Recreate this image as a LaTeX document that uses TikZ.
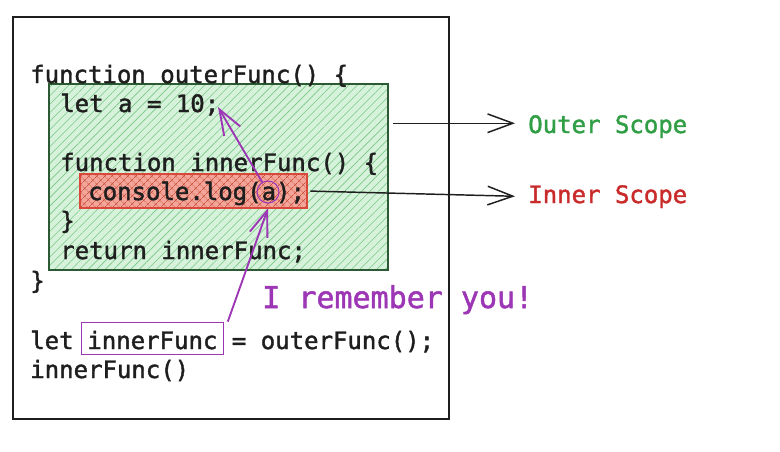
\documentclass[tikz,border=0pt]{standalone}
\usepackage{fontspec}
\newfontfamily\codefont[FakeBold=1.6]{DejaVu Sans Mono}
\usepackage{xcolor}
\usetikzlibrary{arrows.meta,patterns.meta,positioning}
\definecolor{ink}{HTML}{1E1E1E}
\definecolor{outerline}{HTML}{2B5A34}
\definecolor{outerfill}{HTML}{D6F2DA}
\definecolor{outerhatch}{HTML}{79C788}
\definecolor{innerline}{HTML}{D9483B}
\definecolor{innerfill}{HTML}{F2A598}
\definecolor{innerhatch}{HTML}{C9503F}
\definecolor{scopegreen}{HTML}{2F9E44}
\definecolor{scopered}{HTML}{C92A2A}
\definecolor{recall}{HTML}{9C36B5}
\tikzstyle{code} = [font=\codefont\fontsize{18}{22}\selectfont, text=ink, anchor=base west, inner sep=0pt]
\tikzstyle{outerbox} = [rectangle, draw=outerline, line width=0.8pt, preaction={fill=outerfill}, pattern={Lines[angle=45,distance=4.5pt,line width=0.45pt]}, pattern color=outerhatch]
\tikzstyle{innerbox} = [rectangle, draw=innerline, line width=0.8pt, preaction={fill=innerfill}, pattern={Hatch[angle=45,distance=4pt,line width=0.45pt]}, pattern color=innerhatch]
\tikzstyle{namebox} = [code, anchor=base, draw=recall, line width=0.6pt, text height=16.5pt, text depth=0pt, inner xsep=4.5pt, inner ysep=3.75pt]
\tikzstyle{scopearrow} = [draw=ink, line width=1.1pt, -{Straight Barb[length=19pt,width=14pt,line width=1.1pt]}]
\tikzstyle{recallarrow} = [draw=recall, line width=1.4pt, -{Straight Barb[length=19pt,width=14pt,line width=1.4pt]}]
\tikzstyle{frame} = [draw=ink, line width=0.9pt]

\begin{document}
\begin{tikzpicture}[x=0.75pt, y=-0.75pt]
    \useasboundingbox (0,0) rectangle (780,451);
    \draw [frame] (13,17) rectangle (449,419);
    % scope boxes
    \node (outer) [outerbox, minimum width=254.25pt, minimum height=139.5pt] at (218.5,177) {};
    \node (inner) [innerbox, minimum width=170.25pt, minimum height=25.5pt] at (193.5,191) {};
    % code lines
    \node (l1) [code] at (30,83) {function outerFunc() \{};
    \node (l2) [code] at (60,112) {let a = 10;};
    \node (l3) [code] at (60,171) {function innerFunc() \{};
    \node (l4) [code] at (88,200) {console.log(a);};
    \node (l5) [code] at (60,229) {\}};
    \node (l6) [code] at (60,259) {return innerFunc;};
    \node (l7) [code] at (30,289) {\}};
    \node (l8a) [code] at (30,349) {let};
    \node (ifname) [namebox] at (152.4,349) {innerFunc};
    \node (l8b) [code] at (231.6,349) {= outerFunc();};
    \node (l9) [code] at (30,378) {innerFunc()};
    % labels
    \node (outerlbl) [code, text=scopegreen] at (528,133) {Outer Scope};
    \node (innerlbl) [code, text=scopered] at (528,203) {Inner Scope};
    \node (remember) [code, text=recall, font=\codefont\fontsize{22.5}{26}\selectfont] at (262,308) {I remember you!};
    % closure lookup
    \node (avar) [circle, draw=recall, line width=0.8pt, minimum size=16.5pt, inner sep=0pt] at (268,192) {};
    \coordinate (aval) at (218,107);
    \draw [scopearrow, shorten <=3.75pt, shorten >=9.75pt] ([yshift=2.5pt]outer.east |- outerlbl.west) -- ([yshift=2.5pt]outerlbl.west);
    \draw [scopearrow, shorten <=2.25pt, shorten >=9.75pt] (inner.east) -- (innerlbl.west);
    \draw [recallarrow] (avar) -- (aval);
    \draw [recallarrow] ([xshift=3pt]ifname.north east) -- (avar.south |- inner.south);
\end{tikzpicture}
\end{document}
